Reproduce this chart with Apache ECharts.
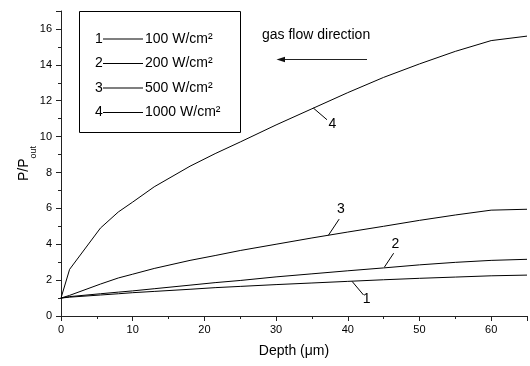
<!DOCTYPE html>
<html>
<head>
<meta charset="utf-8">
<script src="https://cdn.jsdelivr.net/npm/echarts@6/dist/echarts.min.js"></script>
<style>html,body{margin:0;padding:0;background:#fff}#c{width:530px;height:366px}</style>
</head>
<body>
<div id="c"></div>
<script>
// ---- data ----
const depth = [0, 1.2, 5.5, 8, 10, 13, 18, 21.5, 25, 30, 35, 40, 45, 50, 55, 60, 65];
const p100  = [1.0, 1.05, 1.17, 1.24, 1.30, 1.37, 1.49, 1.58, 1.65, 1.75, 1.84, 1.93, 2.02, 2.10, 2.17, 2.24, 2.28];
const p200  = [1.0, 1.08, 1.24, 1.33, 1.40, 1.52, 1.72, 1.86, 1.98, 2.18, 2.35, 2.52, 2.68, 2.85, 2.99, 3.10, 3.16];
const p500  = [1.0, 1.15, 1.78, 2.12, 2.33, 2.65, 3.10, 3.37, 3.65, 4.00, 4.35, 4.68, 5.00, 5.33, 5.63, 5.90, 5.95];
const p1000 = [1.0, 2.6, 4.9, 5.8, 6.35, 7.2, 8.35, 9.05, 9.7, 10.65, 11.55, 12.45, 13.3, 14.05, 14.75, 15.35, 15.6];
const seriesNames = ['100 W/cm²', '200 W/cm²', '500 W/cm²', '1000 W/cm²'];
const curveIds = ['1', '2', '3', '4'];
const xAxisName = 'Depth (\u03bcm)';
const yAxisMain = 'P/P';
const yAxisSub = 'out';
const flowText = 'gas flow direction';

const FONT = 'Arial, "Liberation Sans", sans-serif';
const values = [p100, p200, p500, p1000];
// callout pointers (data coordinates): start on curve, end at label
const callouts = [
  [[40.6, 1.93], [42.2, 1.17]],
  [[45.1, 2.72], [46.4, 3.50]],
  [[37.3, 4.50], [38.8, 5.40]],
  [[35.2, 11.59], [37.1, 10.94]]
];
const calloutDist = [5, 3, 3, 7];

const chart = echarts.init(document.getElementById('c'), null, {renderer: 'canvas'});

const series = values.map((vals, i) => ({
  name: seriesNames[i],
  type: 'line',
  data: depth.map((d, k) => [d, vals[k]]),
  showSymbol: false,
  symbol: 'none',
  smooth: false,
  lineStyle: {color: '#000', width: 1},
  itemStyle: {color: '#000'},
  animation: false,
  silent: true,
  markLine: {
    silent: true,
    animation: false,
    symbol: ['none', 'none'],
    lineStyle: {color: '#000', width: 1, type: 'solid'},
    label: {
      show: true,
      position: 'end',
      distance: calloutDist[i],
      formatter: curveIds[i],
      color: '#000',
      fontSize: 14,
      fontFamily: FONT
    },
    data: [[{coord: callouts[i][0]}, {coord: callouts[i][1]}]]
  }
}));

// legend layout
const legTop = 32, legGap = 10.5, legLine = 14;
const legendNums = curveIds.map((id, i) => ({
  type: 'text',
  silent: true,
  style: {
    text: id, x: 99, y: legTop + i * (legLine + legGap) + legLine / 2,
    fill: '#000', font: '14px ' + FONT, align: 'center', verticalAlign: 'middle'
  }
}));

chart.setOption({
  backgroundColor: '#fff',
  animation: false,
  grid: {left: 61, right: 3, top: 11, bottom: 50},
  legend: {
    data: seriesNames,
    orient: 'vertical',
    left: 103,
    top: legTop,
    padding: 0,
    itemGap: legGap,
    itemWidth: 40,
    itemHeight: 1,
    icon: 'rect',
    selectedMode: false,
    textStyle: {color: '#000', fontSize: 14, fontFamily: FONT, lineHeight: legLine, padding: [0, 0, 0, -3]}
  },
  xAxis: {
    type: 'value',
    min: 0, max: 65, interval: 10,
    name: xAxisName,
    nameLocation: 'middle',
    nameGap: 28,
    nameMoveOverlap: false,
    nameTextStyle: {color: '#000', fontSize: 14, fontFamily: FONT},
    axisLine: {lineStyle: {color: '#222', width: 1}},
    axisTick: {show: true, inside: false, length: 5, lineStyle: {color: '#222'}},
    minorTick: {show: true, splitNumber: 2, length: 3, lineStyle: {color: '#222'}},
    axisLabel: {color: '#000', fontSize: 11, fontFamily: FONT, margin: 8, showMaxLabel: false},
    splitLine: {show: false}
  },
  yAxis: {
    type: 'value',
    min: 0, max: 17, interval: 2,
    name: yAxisMain + '{s|' + yAxisSub + '}',
    nameLocation: 'middle',
    nameRotate: 90,
    nameGap: 44,
    nameMoveOverlap: false,
    nameTextStyle: {
      color: '#000', fontSize: 14, fontFamily: FONT, lineHeight: 14, verticalAlign: 'top',
      rich: {
        s: {fontSize: 9, fontFamily: FONT, color: '#000', lineHeight: 9, padding: [12, 0, 0, 0], verticalAlign: 'top'}
      }
    },
    axisLine: {show: true, lineStyle: {color: '#222', width: 1}},
    axisTick: {show: true, inside: false, length: 5, lineStyle: {color: '#222'}},
    minorTick: {show: true, splitNumber: 2, length: 3, lineStyle: {color: '#222'}},
    axisLabel: {color: '#000', fontSize: 11, fontFamily: FONT, margin: 9, showMaxLabel: false},
    splitLine: {show: false}
  },
  graphic: [
    {
      type: 'rect', silent: true,
      shape: {x: 79.5, y: 11.5, width: 161, height: 121},
      style: {fill: 'none', stroke: '#000', lineWidth: 1}
    },
    ...legendNums,
    {
      type: 'text', silent: true,
      style: {text: flowText, x: 262, y: 35, fill: '#000', font: '14px ' + FONT, verticalAlign: 'middle'}
    },
    {
      type: 'line', silent: true,
      shape: {x1: 282, y1: 59.5, x2: 367, y2: 59.5},
      style: {stroke: '#222', lineWidth: 1}
    },
    {
      type: 'polygon', silent: true,
      shape: {points: [[276.5, 59.5], [285, 56.8], [285, 62.2]]},
      style: {fill: '#111'}
    }
  ],
  series: series
});
</script>
</body>
</html>
